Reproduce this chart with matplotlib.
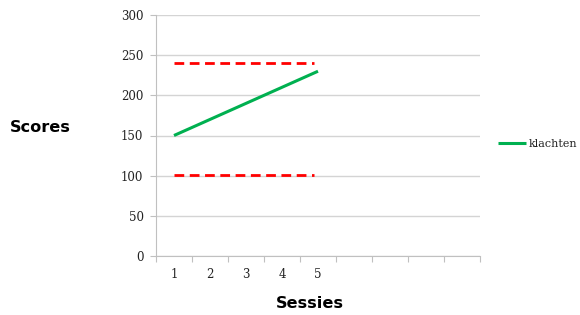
import matplotlib
matplotlib.use("Agg")
import matplotlib.pyplot as plt

sessions = ["1", "2", "3", "4", "5"]
klachten = [150, 170, 190, 210, 230]
upper_limit = 240
lower_limit = 101
limit_span = [1, 4.9]  # session positions spanned by the dashed reference lines
n_categories = 9
yticks = [0, 50, 100, 150, 200, 250, 300]

fig = plt.figure(figsize=(5.8, 3.15), dpi=100)
ax = fig.add_axes([156/580, 1-256/315, (480-156)/580, (256-15)/315])

x = list(range(len(sessions)))
ax.plot(x, klachten, color="#00b050", lw=2.2, label="klachten", solid_capstyle="butt")
xs = [limit_span[0]-1, limit_span[1]-1]
for v in (upper_limit, lower_limit):
    ax.plot(xs, [v, v], color="#ff0000", lw=2, dashes=(3.5, 2), solid_capstyle="butt")

ax.set_xlim(-0.5, n_categories-0.5)
ax.set_ylim(0, 300)
ax.set_yticks(yticks)
ax.set_yticklabels([str(t) for t in yticks], family="DejaVu Serif", fontsize=8.5, color="#222222")
ax.set_xticks([i-0.5 for i in range(n_categories+1)])
ax.set_xticklabels([])
ax.set_xticks(x, minor=True)
ax.set_xticklabels(sessions, minor=True, family="DejaVu Serif", fontsize=8.5, color="#222222")
ax.tick_params(axis="x", which="minor", length=0, pad=9)
ax.tick_params(axis="x", which="major", length=4, color="#c0c0c0", direction="out")
ax.tick_params(axis="y", length=4, color="#c0c0c0", direction="out", pad=5)

ax.grid(axis="y", color="#d4d4d4", lw=1)
ax.set_axisbelow(True)
for s in ("top", "right"):
    ax.spines[s].set_visible(False)
for s in ("left", "bottom"):
    ax.spines[s].set_color("#c0c0c0")

fig.text(10/580, 1-128/315, "Scores", fontsize=11.6, fontweight="bold", family="DejaVu Sans", va="center")
fig.text(310/580, 1-303/315, "Sessies", fontsize=11.6, fontweight="bold", family="DejaVu Sans", va="center", ha="center")

leg = fig.legend(loc="center left", bbox_to_anchor=(498/580, 1-144/315), frameon=False,
                 prop={"family": "DejaVu Serif", "size": 8}, handlelength=2.5,
                 handletextpad=0.25, borderaxespad=0, borderpad=0)
for t in leg.get_texts():
    t.set_color("#222222")

fig.savefig("out.png", dpi=100)
